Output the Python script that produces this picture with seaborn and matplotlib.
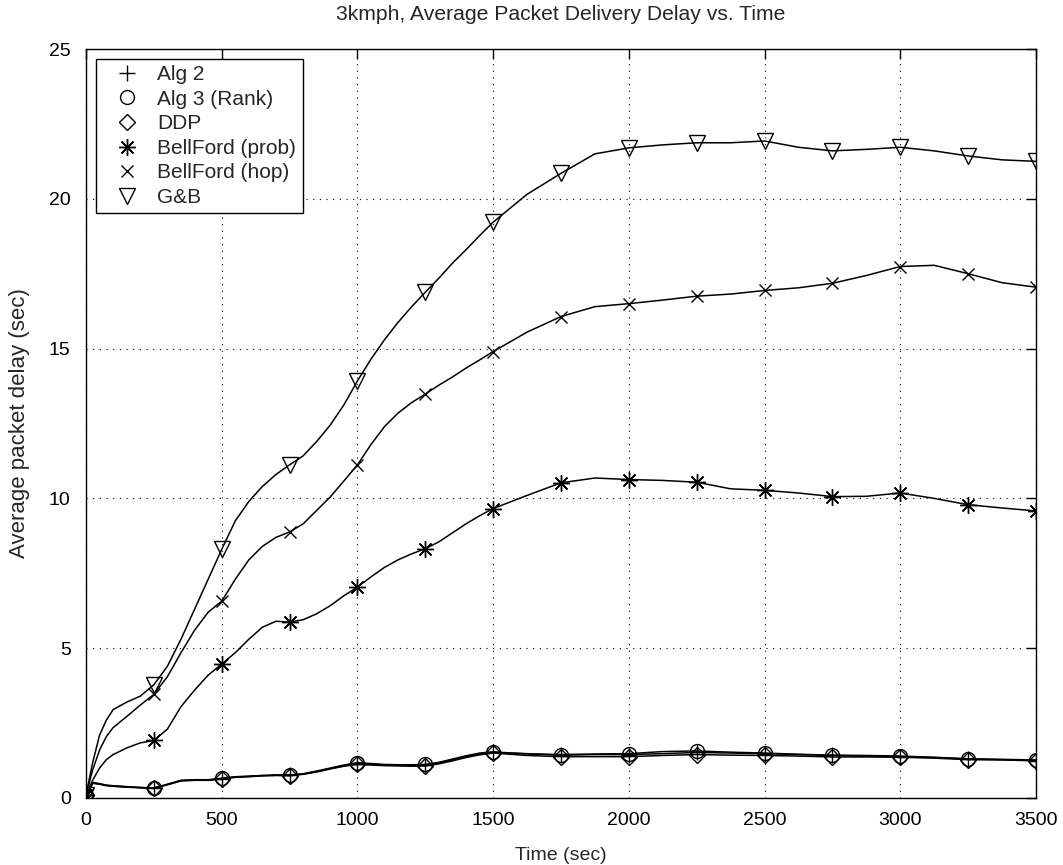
#!/usr/bin/env python3

import matplotlib
matplotlib.use("Agg")
import matplotlib.pyplot as plt
from matplotlib.lines import Line2D
import pandas as pd
import seaborn as sns


# time samples (sec); markers sit on the multiples of 250
time_sec = [0, 25, 50, 75, 100, 150, 200, 250, 300, 350, 400, 450, 500, 550, 600, 650,
            700, 750, 800, 850, 900, 950, 1000, 1050, 1100, 1150, 1200, 1250, 1300, 1350,
            1400, 1450, 1500, 1625, 1750, 1875, 2000, 2125, 2250, 2375, 2500, 2625, 2750,
            2875, 3000, 3125, 3250, 3375, 3500]

alg2 = [0.10, 0.50, 0.47, 0.42, 0.40, 0.37, 0.35, 0.33, 0.45, 0.58, 0.60, 0.60, 0.65, 0.70,
        0.72, 0.75, 0.76, 0.76, 0.80, 0.88, 0.98, 1.08, 1.15, 1.13, 1.10, 1.09, 1.09, 1.10,
        1.17, 1.27, 1.38, 1.47, 1.52, 1.48, 1.43, 1.45, 1.45, 1.48, 1.52, 1.50, 1.48, 1.45,
        1.42, 1.40, 1.38, 1.35, 1.30, 1.28, 1.25]

alg3 = [0.10, 0.52, 0.48, 0.43, 0.41, 0.38, 0.35, 0.34, 0.46, 0.59, 0.61, 0.61, 0.66, 0.71,
        0.73, 0.75, 0.77, 0.77, 0.81, 0.90, 1.00, 1.10, 1.18, 1.15, 1.12, 1.11, 1.11, 1.12,
        1.19, 1.30, 1.41, 1.50, 1.54, 1.47, 1.45, 1.47, 1.48, 1.55, 1.57, 1.53, 1.50, 1.46,
        1.43, 1.42, 1.40, 1.36, 1.31, 1.29, 1.27]

ddp = [0.10, 0.49, 0.46, 0.41, 0.39, 0.36, 0.34, 0.32, 0.44, 0.57, 0.59, 0.59, 0.63, 0.69,
       0.71, 0.74, 0.75, 0.74, 0.79, 0.87, 0.97, 1.06, 1.12, 1.10, 1.08, 1.07, 1.06, 1.07,
       1.14, 1.24, 1.35, 1.44, 1.50, 1.42, 1.38, 1.38, 1.38, 1.42, 1.45, 1.43, 1.42, 1.40,
       1.37, 1.37, 1.36, 1.33, 1.28, 1.27, 1.24]

bellford_prob = [0.10, 0.60, 1.00, 1.28, 1.45, 1.67, 1.84, 1.92, 2.30, 3.05, 3.60, 4.10,
                 4.47, 4.85, 5.30, 5.70, 5.90, 5.87, 5.95, 6.15, 6.42, 6.75, 7.04, 7.38,
                 7.70, 7.95, 8.15, 8.32, 8.55, 8.85, 9.15, 9.42, 9.66, 10.10, 10.52, 10.68,
                 10.63, 10.60, 10.54, 10.32, 10.27, 10.18, 10.06, 10.07, 10.18, 10.00, 9.79,
                 9.68, 9.58]

bellford_hop = [0.10, 0.95, 1.60, 2.05, 2.35, 2.72, 3.10, 3.46, 4.05, 4.85, 5.60, 6.20,
                6.57, 7.30, 7.95, 8.40, 8.70, 8.88, 9.15, 9.60, 10.05, 10.58, 11.12, 11.80,
                12.40, 12.85, 13.20, 13.48, 13.78, 14.05, 14.35, 14.62, 14.90, 15.55, 16.07,
                16.40, 16.50, 16.62, 16.75, 16.82, 16.94, 17.03, 17.18, 17.44, 17.74, 17.78,
                17.50, 17.20, 17.05]

gb = [0.10, 1.20, 2.10, 2.60, 2.95, 3.20, 3.40, 3.78, 4.40, 5.30, 6.30, 7.30, 8.30, 9.25,
      9.90, 10.40, 10.80, 11.12, 11.42, 11.90, 12.45, 13.12, 13.92, 14.65, 15.30, 15.88,
      16.40, 16.88, 17.35, 17.85, 18.30, 18.77, 19.22, 20.15, 20.85, 21.50, 21.70, 21.80,
      21.87, 21.87, 21.93, 21.72, 21.60, 21.65, 21.72, 21.60, 21.43, 21.30, 21.25]

names = ["Alg 2", "Alg 3 (Rank)", "DDP", "BellFord (prob)", "BellFord (hop)", "G&B"]
series = [alg2, alg3, ddp, bellford_prob, bellford_hop, gb]
markers = ["+", "o", "D", (8, 2, 0), "x", "v"]
msizes = [12, 10, 8, 12, 9, 12]

x_ticks = [0, 500, 1000, 1500, 2000, 2500, 3000, 3500]
y_ticks = [0, 5, 10, 15, 20, 25]


sns.set_style("white")
plt.rcParams["font.family"] = ["Liberation Sans", "DejaVu Sans"]

fig = plt.figure(figsize=(10.63, 8.65), dpi=100)
ax = fig.add_axes([86 / 1063, 1 - 798 / 865, 950 / 1063, 749 / 865])

mark_idx = [i for i, t in enumerate(time_sec) if t % 250 == 0]

for name, vals, m, ms in zip(names, series, markers, msizes):
    df = pd.DataFrame({"t": time_sec, "d": vals})
    sns.lineplot(data=df, x="t", y="d", ax=ax, color="black", linewidth=1.1,
                 marker=m, markersize=ms, markevery=mark_idx,
                 markerfacecolor="none", markeredgecolor="black", markeredgewidth=1.0,
                 legend=False)

ax.set_xlim(0, 3500)
ax.set_ylim(0, 25)
ax.set_xticks(x_ticks)
ax.set_yticks(y_ticks)
ax.tick_params(direction="in", length=7, width=1, top=True, right=True,
               labelsize=14, colors="black")
ax.tick_params(axis="y", pad=11)
ax.tick_params(axis="x", pad=10)
ax.grid(True, color="black", linestyle=(0, (1, 5)), linewidth=0.8)
for s in ax.spines.values():
    s.set_color("black")
    s.set_linewidth(1)

ax.set_xlabel("Time (sec)", fontsize=14, labelpad=13)
ax.set_ylabel("Average packet delay (sec)", fontsize=16, labelpad=14)
ax.set_title("3kmph, Average Packet Delivery Delay vs. Time", fontsize=15.2, pad=21)

handles = [Line2D([], [], linestyle="none", marker=m, markersize=ms, color="black",
                  markerfacecolor="none", markeredgewidth=1.0)
           for m, ms in zip(markers, msizes)]
leg = ax.legend(handles, names, loc="upper left", bbox_to_anchor=(0.0105, 0.987),
                borderaxespad=0, fontsize=15, fancybox=False, framealpha=1,
                edgecolor="black", handlelength=2.4, handletextpad=0.25,
                labelspacing=0.27, borderpad=0.3)
leg.get_frame().set_linewidth(1)

plt.savefig("out.png", dpi=100)
